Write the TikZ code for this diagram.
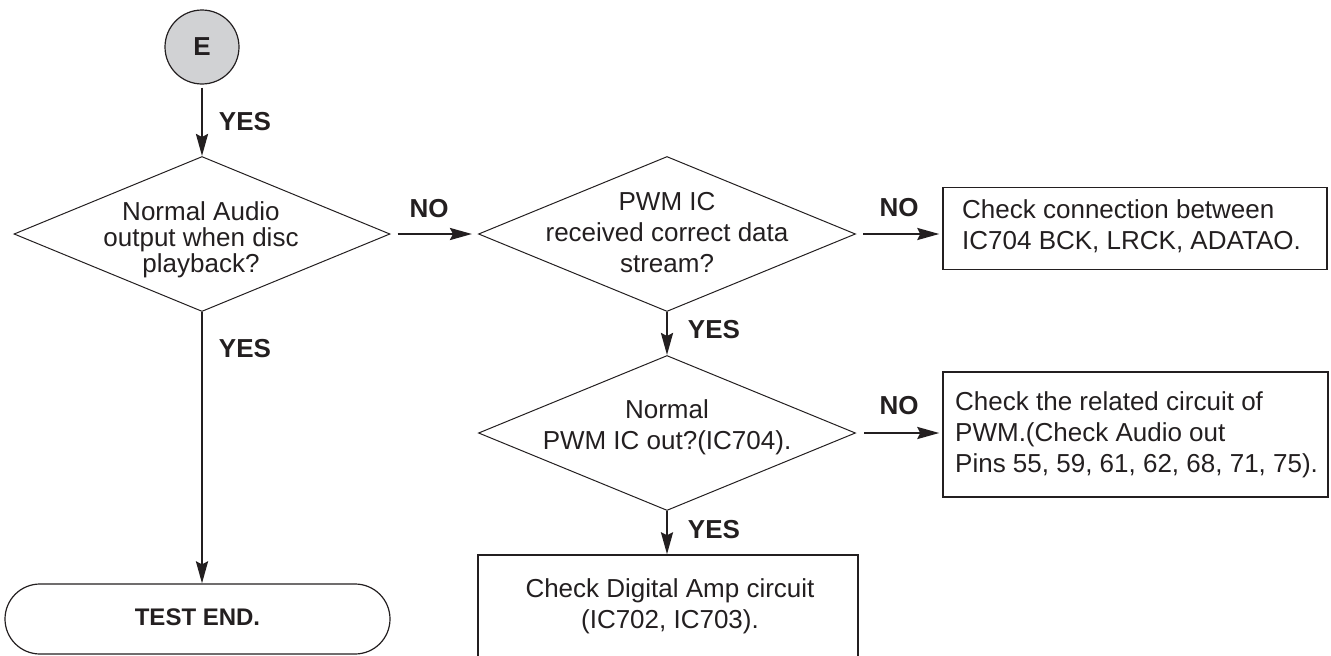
\documentclass[tikz,border=0pt]{standalone}
\usepackage{fontspec}
\setmainfont{Liberation Sans}
\usetikzlibrary{shapes.geometric,shapes.misc,arrows.meta}
\definecolor{circfill}{HTML}{D1D2D4}
\definecolor{ink}{HTML}{231F20}
\tikzset{
  dia/.style={draw=ink, diamond, minimum width=376pt, minimum height=155pt, inner sep=0pt, line width=1pt},
  stepbox/.style={draw=ink, rectangle, line width=1.4pt, inner sep=0pt},
  arr/.style={draw=ink, line width=2.5pt, -{Stealth[length=22pt,width=12pt,inset=3pt]}},
  lbl/.style={text=ink, font=\bfseries\fontsize{26}{26}\selectfont, inner sep=0pt},
  txt/.style={text=ink, font=\fontsize{26}{31}\selectfont, inner sep=0pt},
}
\begin{document}
\begin{tikzpicture}[x=1pt,y=-1pt]
\useasboundingbox (0,0) rectangle (1331,656);
% start circle
\node[draw=ink, circle, fill=circfill, line width=1.2pt, minimum size=74pt, inner sep=0pt,
      font=\bfseries\fontsize{26}{26}\selectfont, text=ink] (E) at (202,47) {E};
% decisions
\node[dia] (d1) at (202,234) {};
\node[txt, align=center, font=\fontsize{26}{26}\selectfont] (t1) at (201,240) {Normal Audio\\output when disc\\playback?};
\node[dia, minimum width=377pt] (d2) at (667,234) {};
\node[txt, align=center] (t2) at (667,233) {PWM IC\\received correct data\\stream?};
\node[dia, minimum width=377pt] (d3) at (667,433) {};
\node[txt, align=center] (t3) at (667,427) {Normal\\PWM IC out?(IC704).};
% boxes
\node[stepbox, minimum width=384pt, minimum height=82pt] (b1) at (1135,228.5) {};
\node[txt, align=left, anchor=west] (tb1) at (962,226) {Check connection between\\IC704 BCK, LRCK, ADATAO.};
\node[stepbox, minimum width=385pt, minimum height=125pt] (b2) at (1135.5,434.5) {};
\node[txt, align=left, anchor=west] (tb2) at (955,435) {Check the related circuit of\\PWM.(Check Audio out\\Pins 55, 59, 61, 62, 68, 71, 75).};
\node[stepbox, minimum width=380pt, minimum height=120pt] (b3) at (668,615) {};
\node[txt, align=center] (tb3) at (670,606) {Check Digital Amp circuit\\(IC702, IC703).};
% terminal
\node[draw=ink, rounded rectangle, line width=1.2pt, minimum width=385pt, minimum height=70pt, inner sep=0pt] (te) at (197.5,619) {};
\node[text=ink, font=\bfseries\fontsize{24}{24}\selectfont, inner sep=0pt] (tte) at (197.5,617.5) {TEST END.};
% connectors
\draw[arr, shorten <=3pt] (E.south) -- (d1.north);
\draw[arr] (d1.south) -- (d1.south |- te.north);
\draw[arr, shorten <=7pt, shorten >=6pt] (d1.east) -- (d2.west);
\draw[arr, shorten <=7pt, shorten >=3pt] (d2.east) -- (d2.east -| b1.west);
\draw[arr] (d2.south) -- (d3.north);
\draw[arr, shorten <=8pt, shorten >=3pt] (d3.east) -- (d3.east -| b2.west);
\draw[arr] (d3.south) -- (d3.south |- b3.north);
% labels
\node[lbl] (y1) at (245,122) {YES};
\node[lbl] (y2) at (245,349) {YES};
\node[lbl] (y3) at (714,330) {YES};
\node[lbl] (y4) at (714,530) {YES};
\node[lbl] (n1) at (429,209) {NO};
\node[lbl] (n2) at (899,208) {NO};
\node[lbl] (n3) at (899,406) {NO};
\end{tikzpicture}
\end{document}
